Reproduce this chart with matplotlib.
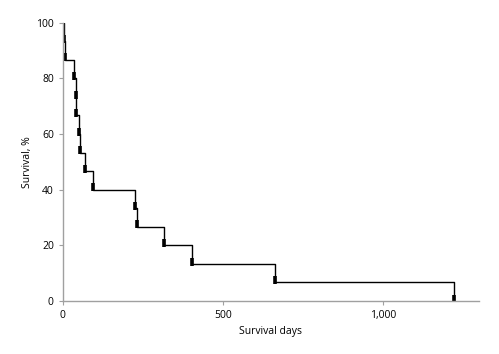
import matplotlib
matplotlib.use("Agg")
import matplotlib.pyplot as plt
import numpy as np
from matplotlib.ticker import FuncFormatter

# Kaplan-Meier style data
event_days = [3, 7, 34, 40, 42, 50, 52, 69, 95, 224, 230, 317, 403, 663, 1223]
survival = [93.3, 86.7, 80.0, 73.3, 66.7, 60.0, 53.3, 46.7, 40.0, 33.3, 26.7, 20.0, 13.3, 6.7, 0.0]
x_ticks = [0, 500, 1000]
y_ticks = [0, 20, 40, 60, 80, 100]

plt.rcParams['font.family'] = ['Open Sans', 'DejaVu Sans']

fig = plt.figure(figsize=(4.99, 3.54), dpi=100)
ax = fig.add_axes([0.126, 0.150, 0.834, 0.786])

xs = [0] + event_days
ys = [100] + survival
ax.step(xs, ys, where='post', color='black', lw=1.0)
ax.plot(event_days, [s + 0.8 for s in survival], linestyle='none', marker='|',
        markersize=6, mew=2.6, color='black')

ax.set_xlim(0, 1300)
ax.set_ylim(0, 100)
ax.set_xticks(x_ticks)
ax.set_yticks(y_ticks)
ax.xaxis.set_major_formatter(FuncFormatter(lambda v, p: f'{int(v):,}'))

for side in ['top', 'right']:
    ax.spines[side].set_visible(False)
for side in ['left', 'bottom']:
    ax.spines[side].set_color('#a0a0a0')
    ax.spines[side].set_linewidth(1.0)
ax.tick_params(colors='#a0a0a0', labelcolor='black', labelsize=7.5, length=3, width=0.8)

ax.set_xlabel('Survival days', fontsize=7.5, labelpad=4)
ax.set_ylabel('Survival, %', fontsize=7.5, labelpad=2)

fig.savefig('out.png', dpi=100)
